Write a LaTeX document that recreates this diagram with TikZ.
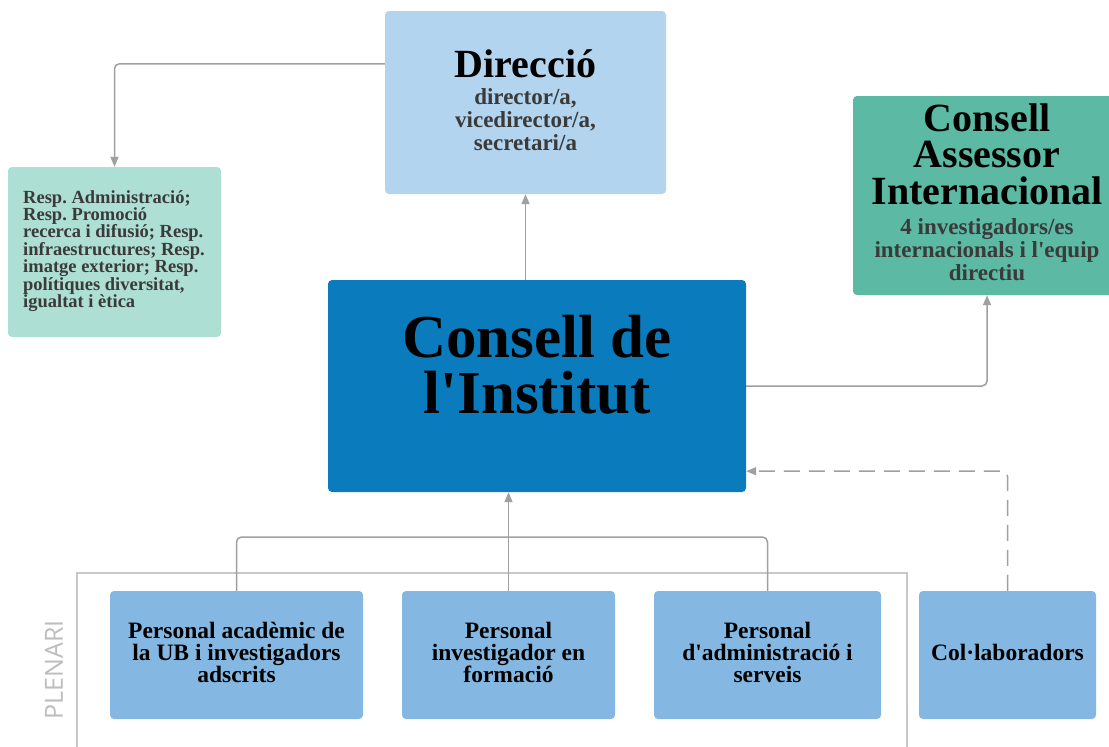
\documentclass[tikz,border=0pt]{standalone}
\usepackage{fontspec}
\setmainfont{Liberation Serif}
\newfontfamily\plenfont{Open Sans}
\usetikzlibrary{arrows.meta}
\definecolor{cdir}{HTML}{B3D4EF}
\definecolor{cresp}{HTML}{AEDFD4}
\definecolor{cca}{HTML}{5BB9A4}
\definecolor{cci}{HTML}{0A7CBD}
\definecolor{cbox}{HTML}{84B8E2}
\definecolor{cline}{HTML}{A0A0A0}
\definecolor{cframe}{HTML}{C8C8C8}
\definecolor{csub}{HTML}{3A3A3A}
\definecolor{cplen}{HTML}{BDBDBD}
\newcommand{\apos}{\textquotesingle}
\frenchspacing
\tikzset{
  orgbox/.style={rectangle, rounded corners=4pt, draw=none, inner sep=0pt},
  lbl/.style={inner sep=0pt, align=center, font=\bfseries},
  conn/.style={draw=cline, line width=1.5pt, rounded corners=5pt, -{Triangle[length=10pt,width=8pt]}},
  dconn/.style={conn, dash pattern=on 16pt off 9pt},
  bus/.style={draw=cline, line width=1.5pt, rounded corners=5pt},
}
\begin{document}
\frenchspacing
\begin{tikzpicture}[x=1pt,y=-1pt]
\useasboundingbox (0,0) rectangle (1109,747);
\fill[white] (0,0) rectangle (1109,747);
\begin{scope}
\clip (0,0) rectangle (1109,747);
% frame
\draw[cframe, line width=1.2pt] (77,747) -- (77,573) -- (907,573) -- (907,747);
\node[rotate=90, inner sep=0pt, text=cplen, font=\fontsize{25}{25}\selectfont\plenfont] (plen) at (54,670) {PLENARI};
% boxes
\node[orgbox, fill=cdir, minimum width=281pt, minimum height=183pt] (dir) at (525.5,102.5) {};
\node[orgbox, fill=cresp, minimum width=213pt, minimum height=170pt] (resp) at (114.5,252) {};
\node[orgbox, fill=cca, minimum width=268pt, minimum height=199pt] (ca) at (987,195.5) {};
\node[orgbox, fill=cci, minimum width=418pt, minimum height=212pt] (ci) at (537,386) {};
\node[orgbox, fill=cbox, minimum width=253pt, minimum height=128pt] (b1) at (236.5,655) {};
\node[orgbox, fill=cbox, minimum width=213pt, minimum height=128pt] (b2) at (508.5,655) {};
\node[orgbox, fill=cbox, minimum width=227pt, minimum height=128pt] (b3) at (767.5,655) {};
\node[orgbox, fill=cbox, minimum width=177pt, minimum height=128pt] (colab) at (1007.5,655) {};
% labels (base = baseline of the last line)
\node[lbl, anchor=base, font=\fontsize{40}{36}\selectfont\bfseries] (dirT) at (525.5,77) {Direcció};
\node[lbl, anchor=base, text=csub, font=\fontsize{23}{23}\selectfont\bfseries] (dirS) at (525.5,150) {director/a,\\vicedirector/a,\\secretari/a};
\node[lbl, anchor=base west, align=left, text=csub, font=\fontsize{18.5}{17.4}\selectfont\bfseries] (respT) at (23,307.5) {Resp. Administració;\\Resp. Promoció\\recerca i difusió; Resp.\\infraestructures; Resp.\\imatge exterior; Resp.\\polítiques diversitat,\\igualtat i ètica};
\node[lbl, anchor=base, font=\fontsize{40}{36.5}\selectfont\bfseries] (caT) at (987,204) {Consell\\Assessor\\Internacional};
\node[lbl, anchor=base, text=csub, font=\fontsize{23}{23}\selectfont\bfseries] (caS) at (987,280) {4 investigadors/es\\internacionals i l\apos equip\\directiu};
\node[lbl, anchor=base, font=\fontsize{61}{56}\selectfont\bfseries] (ciT) at (537,413) {Consell de\\l\apos Institut};
\node[lbl, anchor=base, font=\fontsize{23.5}{22}\selectfont\bfseries] (b1T) at (236.5,682) {Personal acadèmic de\\la UB i investigadors\\adscrits};
\node[lbl, anchor=base, font=\fontsize{23.5}{22}\selectfont\bfseries] (b2T) at (508.5,682) {Personal\\investigador en\\formació};
\node[lbl, anchor=base, font=\fontsize{23.5}{22}\selectfont\bfseries] (b3T) at (767.5,682) {Personal\\d\apos administració i\\serveis};
\node[lbl, anchor=base, font=\fontsize{23.5}{22}\selectfont\bfseries] (colabT) at (1007.5,660) {Col·laboradors};
% connectors
\draw[conn] ([yshift=-53pt]dir.north west) -| (resp.north);
\draw[conn] (ci.north -| dir.south) -- (dir.south);
\draw[conn] (ci.east) -| (ca.south);
\coordinate (busy) at (0,537);
\draw[bus] (b1.north) -- (b1.north |- busy) -- (b3.north |- busy) -- (b3.north);
\draw[conn] (b2.north) -- (b2.north |- ci.south);
\draw[dconn] (colab.north) |- ([yshift=21pt]ci.south east);
\end{scope}
\end{tikzpicture}
\end{document}
